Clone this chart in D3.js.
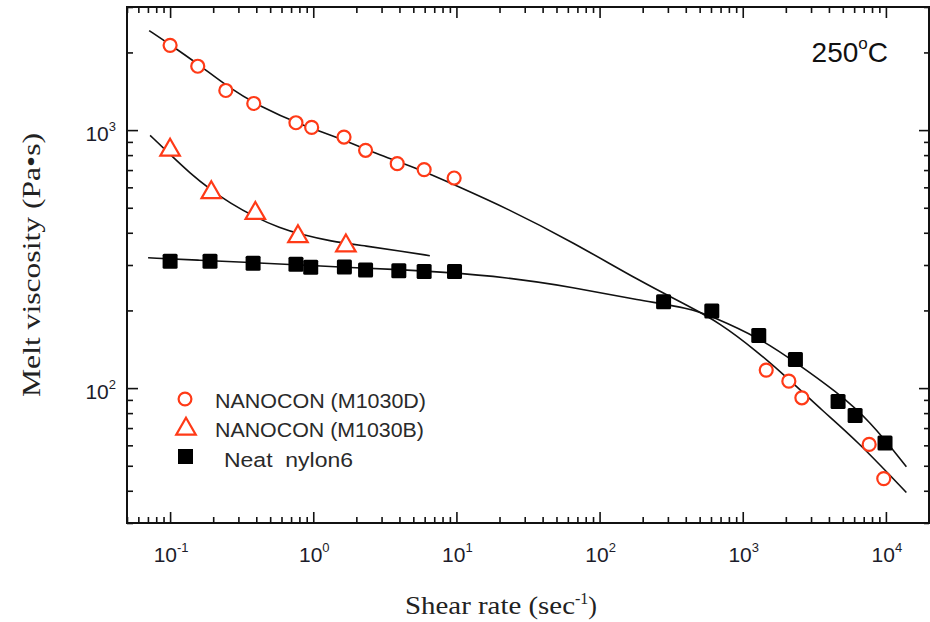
<!DOCTYPE html>
<html>
<head>
<meta charset="utf-8">
<script src="https://cdn.jsdelivr.net/npm/d3@7"></script>
<style>
  body { margin: 0; background: #fff; }
  svg { display: block; }
</style>
</head>
<body>
<svg id="chart"></svg>
<script>
// measured points (shear rate 1/s, viscosity Pa.s)
var m1030dX = [0.1, 0.156, 0.245, 0.384, 0.757, 0.975, 1.64, 2.32, 3.86, 5.95, 9.64, 1459, 2099, 2588, 7640, 9660];
var m1030dY = [2131, 1768, 1424, 1268, 1068, 1024, 940, 835, 741, 703, 652, 117.4, 106.4, 91.7, 60.5, 44.6];

var m1030bX = [0.1, 0.194, 0.394, 0.782, 1.69];
var m1030bY = [837, 573, 476, 387, 356];

var nylonX = [0.1, 0.19, 0.38, 0.757, 0.96, 1.65, 2.32, 3.96, 5.95, 9.7, 280, 608, 1294, 2333, 4634, 6095, 9860];
var nylonY = [310, 310, 305, 302, 294, 295, 287, 285, 283, 283, 216, 199, 160, 129, 88.7, 78.3, 61.3];

// fitted curves
var fitDX = [0.0714, 0.1, 0.162, 0.262, 0.425, 0.808, 1.536, 2.92, 5.55, 9.44, 22.5, 64.9, 190.5, 425, 689, 1249, 2121, 3605, 6226, 13900];
var fitDY = [2430, 2145, 1780, 1450, 1235, 1052, 929, 798, 705, 617, 498, 368, 260, 207, 179, 139.4, 107.7, 81.7, 62.8, 39.4];

var fitBX = [0.0725, 0.1, 0.138, 0.19, 0.262, 0.392, 0.586, 0.808, 1.308, 2.37, 4.03, 6.52];
var fitBY = [954, 805, 680, 590, 521, 460, 417, 395, 371, 355, 340, 326];

var fitNX = [0.0702, 0.162, 0.362, 0.808, 1.803, 4.03, 7.66, 22.5, 64.9, 190.5, 425, 606, 1310, 2374, 4513, 7670, 13900];
var fitNY = [320, 313, 307, 300, 293, 288, 282, 269, 246, 219, 204, 190, 156.5, 125, 96.8, 75, 49.6];

var xMajor = [0.1, 1, 10, 100, 1000, 10000];
var yMajor = [100, 1000];

var legendNames = ["NANOCON (M1030D)", "NANOCON (M1030B)", "Neat  nylon6"];

var red = "#ff3a17";

var width = 930, height = 622;
var mLeft = 127, mRight = 929, mTop = 7, mBottom = 523;

var svg = d3.select("#chart")
  .attr("width", width)
  .attr("height", height);

var x = d3.scaleLog().domain([0.05, 20000]).range([mLeft, mRight]);
var y = d3.scaleLog().domain([30, 3000]).range([mBottom, mTop]);

function zip(a, b) { return a.map(function (v, i) { return [v, b[i]]; }); }

var xMinor = x.ticks().filter(function (v) { return xMajor.indexOf(v) < 0; });
var yMinor = y.ticks().filter(function (v) { return yMajor.indexOf(v) < 0; });

// ticks on all four sides, pointing inwards
function ticks(axis, vals, size, tr) {
  var g = svg.append("g")
    .attr("transform", tr)
    .call(axis.tickValues(vals).tickSize(-size).tickFormat(""));
  g.select(".domain").remove();
  g.selectAll("line").attr("stroke", "#111").attr("stroke-width", 1.6);
}
ticks(d3.axisBottom(x), xMajor, 11, "translate(0," + mBottom + ")");
ticks(d3.axisBottom(x), xMinor, 6, "translate(0," + mBottom + ")");
ticks(d3.axisTop(x), xMajor, 11, "translate(0," + mTop + ")");
ticks(d3.axisTop(x), xMinor, 6, "translate(0," + mTop + ")");
ticks(d3.axisLeft(y), yMajor, 11, "translate(" + mLeft + ",0)");
ticks(d3.axisLeft(y), yMinor, 6, "translate(" + mLeft + ",0)");
ticks(d3.axisRight(y), yMajor, 10, "translate(" + mRight + ",0)");
ticks(d3.axisRight(y), yMinor, 5, "translate(" + mRight + ",0)");

svg.append("rect")
  .attr("x", mLeft).attr("y", mTop)
  .attr("width", mRight - mLeft).attr("height", mBottom - mTop)
  .attr("fill", "none").attr("stroke", "#111").attr("stroke-width", 2);

// tick labels 10^n
function powLabel(sel) {
  sel.append("tspan").text("10");
  sel.append("tspan")
    .attr("dy", -10).attr("font-size", 13)
    .text(function (d) { return Math.round(Math.log10(d)); });
}
svg.append("g").selectAll("text")
  .data(xMajor).enter().append("text")
  .attr("x", function (d) { return x(d) + 1; })
  .attr("y", 562)
  .attr("text-anchor", "middle")
  .attr("font-family", "Liberation Sans, Arial, sans-serif")
  .attr("font-size", 21)
  .attr("fill", "#1c1c2a")
  .call(powLabel);

svg.append("g").selectAll("text")
  .data(yMajor).enter().append("text")
  .attr("x", 116)
  .attr("y", function (d) { return y(d) + 11; })
  .attr("text-anchor", "end")
  .attr("font-family", "Liberation Sans, Arial, sans-serif")
  .attr("font-size", 21)
  .attr("fill", "#1c1c2a")
  .call(powLabel);

// axis titles
var xt = svg.append("text")
  .attr("x", 405).attr("y", 614)
  .attr("font-family", "Liberation Serif, serif")
  .attr("font-size", 26)
  .attr("fill", "#222");
xt.append("tspan").attr("textLength", 170).attr("lengthAdjust", "spacingAndGlyphs").text("Shear rate (sec");
xt.append("tspan").attr("dy", -10).attr("font-size", 16).text("-1");
xt.append("tspan").attr("dy", 10).text(")");

svg.append("text")
  .attr("transform", "translate(40,397) rotate(-90)")
  .attr("font-family", "Liberation Serif, serif")
  .attr("font-size", 26)
  .attr("fill", "#222")
  .attr("textLength", 264)
  .attr("lengthAdjust", "spacingAndGlyphs")
  .text("Melt viscosity (Pa\u2022s)");

var tt = svg.append("text")
  .attr("x", 888).attr("y", 62)
  .attr("text-anchor", "end")
  .attr("font-family", "Liberation Sans, Arial, sans-serif")
  .attr("font-size", 28)
  .attr("fill", "#111");
tt.append("tspan").text("250");
tt.append("tspan").attr("dy", -13).attr("font-size", 17).text("o");
tt.append("tspan").attr("dy", 13).text("C");

// fit lines
var line = d3.line()
  .x(function (d) { return x(d[0]); })
  .y(function (d) { return y(d[1]); })
  .curve(d3.curveBasis);

[zip(fitDX, fitDY), zip(fitBX, fitBY), zip(fitNX, fitNY)].forEach(function (pts) {
  svg.append("path")
    .attr("d", line(pts))
    .attr("fill", "none")
    .attr("stroke", "#111")
    .attr("stroke-width", 1.6);
});

// markers
var tri = d3.symbol().type(d3.symbolTriangle).size(165);

function circles(g, data) {
  g.selectAll("circle").data(data).enter().append("circle")
    .attr("cx", function (d) { return x(d[0]); })
    .attr("cy", function (d) { return y(d[1]); })
    .attr("r", 6.5)
    .attr("fill", "#fff").attr("stroke", red).attr("stroke-width", 2.2);
}
function triangles(g, data) {
  g.selectAll("path").data(data).enter().append("path")
    .attr("d", tri)
    .attr("transform", function (d) { return "translate(" + x(d[0]) + "," + y(d[1]) + ")"; })
    .attr("fill", "#fff").attr("stroke", red).attr("stroke-width", 2.2);
}
function squares(g, data) {
  g.selectAll("rect").data(data).enter().append("rect")
    .attr("x", function (d) { return x(d[0]) - 7.5; })
    .attr("y", function (d) { return y(d[1]) - 7.5; })
    .attr("width", 15).attr("height", 15).attr("rx", 1.5)
    .attr("fill", "#000");
}

squares(svg.append("g"), zip(nylonX, nylonY));
triangles(svg.append("g"), zip(m1030bX, m1030bY));
circles(svg.append("g"), zip(m1030dX, m1030dY));

// legend
var lg = svg.append("g");
lg.append("circle").attr("cx", 185).attr("cy", 399).attr("r", 6.4)
  .attr("fill", "#fff").attr("stroke", red).attr("stroke-width", 2.2);
lg.append("path").attr("d", tri).attr("transform", "translate(186,429)")
  .attr("fill", "#fff").attr("stroke", red).attr("stroke-width", 2.2);
lg.append("rect").attr("x", 178).attr("y", 449).attr("width", 15).attr("height", 15)
  .attr("fill", "#000");

lg.selectAll("text").data(legendNames).enter().append("text")
  .attr("x", function (d, i) { return i === 2 ? 224 : 215; })
  .attr("y", function (d, i) { return [408, 437, 467][i]; })
  .attr("font-family", "Liberation Sans, Arial, sans-serif")
  .attr("font-size", 20.5)
  .attr("fill", "#2a2a2a")
  .attr("xml:space", "preserve")
  .style("white-space", "pre")
  .attr("textLength", function (d, i) { return [211, 209, 129][i]; })
  .attr("lengthAdjust", "spacingAndGlyphs")
  .text(function (d) { return d; });
</script>
</body>
</html>
